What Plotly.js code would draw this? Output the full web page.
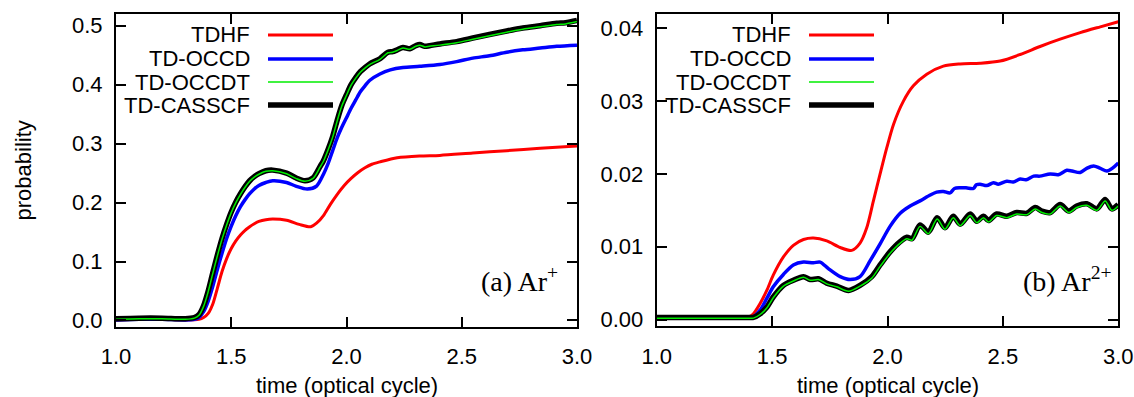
<!DOCTYPE html>
<html>
<head>
<meta charset="utf-8">
<script src="https://cdn.plot.ly/plotly-3.0.1.min.js"></script>
<style>html,body{margin:0;padding:0;background:#fff;}#chart{width:1134px;height:397px;}</style>
</head>
<body>
<div id="chart"></div>
<script>
// ---------- Data: panel (a) Ar+ ----------
const arp_tdhf_x = [1.0,1.1,1.2,1.3,1.36,1.38,1.40,1.42,1.44,1.46,1.48,1.50,1.52,1.54,1.56,1.58,1.60,1.62,1.65,1.68,1.74,1.795,1.845,1.87,1.90,1.93,1.96,1.99,2.02,2.05,2.08,2.11,2.145,2.22,2.318,2.405,2.548,2.695,2.84,3.0];
const arp_tdhf_y = [0.001,0.002,0.002,0.001,0.002,0.005,0.012,0.028,0.055,0.083,0.105,0.122,0.135,0.145,0.153,0.159,0.164,0.168,0.171,0.172,0.170,0.163,0.159,0.165,0.178,0.197,0.214,0.229,0.241,0.251,0.259,0.265,0.269,0.276,0.279,0.280,0.284,0.288,0.292,0.296];

const arp_occd_x = [1.0,1.1,1.2,1.3,1.34,1.36,1.38,1.40,1.42,1.44,1.46,1.48,1.50,1.52,1.54,1.56,1.58,1.60,1.62,1.65,1.68,1.74,1.78,1.83,1.87,1.90,1.92,1.94,1.96,1.98,2.00,2.02,2.04,2.06,2.08,2.10,2.145,2.19,2.245,2.318,2.405,2.478,2.548,2.62,2.695,2.765,2.84,2.912,3.0];
const arp_occd_y = [0.001,0.002,0.002,0.001,0.002,0.005,0.015,0.033,0.058,0.087,0.114,0.139,0.160,0.178,0.193,0.205,0.215,0.223,0.229,0.234,0.237,0.234,0.228,0.223,0.228,0.248,0.266,0.288,0.310,0.328,0.344,0.360,0.374,0.388,0.398,0.407,0.418,0.425,0.429,0.431,0.434,0.439,0.445,0.449,0.455,0.459,0.462,0.465,0.467];

const arp_cas_x = [1.0,1.1,1.2,1.3,1.34,1.36,1.38,1.40,1.42,1.44,1.46,1.48,1.50,1.52,1.54,1.56,1.58,1.60,1.62,1.65,1.68,1.74,1.78,1.82,1.855,1.885,1.90,1.92,1.94,1.96,1.98,2.00,2.02,2.04,2.06,2.08,2.10,2.145,2.18,2.20,2.22,2.245,2.275,2.30,2.318,2.34,2.36,2.405,2.478,2.548,2.62,2.695,2.765,2.84,2.912,2.95,3.0];
const arp_cas_y = [0.003,0.004,0.004,0.003,0.005,0.010,0.025,0.050,0.081,0.111,0.139,0.163,0.184,0.201,0.215,0.227,0.237,0.244,0.249,0.254,0.255,0.250,0.242,0.237,0.242,0.261,0.271,0.290,0.312,0.340,0.365,0.383,0.400,0.412,0.422,0.429,0.435,0.444,0.455,0.456,0.459,0.463,0.461,0.466,0.468,0.465,0.466,0.469,0.473,0.479,0.485,0.491,0.496,0.500,0.504,0.505,0.509];
const arp_occdt_y = [0.002,0.003,0.003,0.002,0.004,0.009,0.024,0.049,0.080,0.110,0.138,0.162,0.183,0.200,0.214,0.226,0.236,0.243,0.248,0.253,0.254,0.249,0.241,0.236,0.241,0.260,0.270,0.289,0.311,0.339,0.364,0.382,0.399,0.411,0.421,0.428,0.434,0.443,0.454,0.455,0.458,0.462,0.460,0.465,0.467,0.464,0.465,0.467,0.471,0.477,0.483,0.489,0.494,0.498,0.502,0.503,0.507];

// ---------- Data: panel (b) Ar2+ ----------
const ar2_tdhf_x = [1.0,1.2,1.4,1.419,1.448,1.477,1.505,1.549,1.592,1.636,1.679,1.737,1.795,1.845,1.881,1.910,1.939,1.968,1.997,2.026,2.069,2.112,2.170,2.242,2.315,2.401,2.488,2.575,2.661,2.748,2.835,2.922,3.0];
const ar2_tdhf_y = [0.0003,0.0003,0.0004,0.0008,0.0022,0.0040,0.0061,0.0086,0.0102,0.0110,0.0112,0.0108,0.0099,0.0095,0.0105,0.0126,0.0163,0.0200,0.0236,0.0268,0.0300,0.0321,0.0337,0.0348,0.0351,0.0352,0.0355,0.0364,0.0375,0.0385,0.0394,0.0402,0.0409];

const ar2_occd_x = [1.0,1.2,1.4,1.419,1.448,1.477,1.505,1.549,1.592,1.636,1.679,1.708,1.744,1.795,1.838,1.881,1.925,1.968,2.011,2.055,2.098,2.141,2.185,2.213,2.242,2.271,2.29,2.315,2.34,2.372,2.385,2.401,2.43,2.459,2.48,2.517,2.545,2.575,2.60,2.633,2.66,2.705,2.74,2.777,2.80,2.835,2.865,2.893,2.92,2.951,2.975,3.0];
const ar2_occd_y = [0.0003,0.0003,0.0003,0.0004,0.0013,0.0029,0.0045,0.0062,0.0075,0.0079,0.0078,0.0079,0.0070,0.0059,0.0055,0.0059,0.0081,0.0104,0.0128,0.0146,0.0156,0.0163,0.0171,0.0175,0.0176,0.0174,0.0180,0.0181,0.0181,0.0180,0.0185,0.0186,0.0184,0.0188,0.0186,0.0190,0.0189,0.0193,0.0192,0.0197,0.0197,0.0200,0.0199,0.0205,0.0204,0.0202,0.0208,0.0211,0.0208,0.0204,0.0208,0.0215];

const ar2_cas_x = [1.0,1.2,1.4,1.419,1.448,1.477,1.505,1.549,1.592,1.636,1.665,1.701,1.737,1.780,1.831,1.881,1.932,1.968,2.011,2.055,2.084,2.106,2.141,2.177,2.215,2.249,2.285,2.315,2.358,2.387,2.416,2.437,2.473,2.517,2.560,2.604,2.640,2.669,2.705,2.748,2.785,2.820,2.864,2.907,2.943,2.972,3.0];
const ar2_cas_y = [0.0003,0.0003,0.0003,0.0003,0.0008,0.0017,0.0031,0.0047,0.0054,0.0059,0.0055,0.0056,0.0050,0.0046,0.0040,0.0047,0.0059,0.0075,0.0093,0.0107,0.0113,0.0111,0.0130,0.0120,0.0140,0.0126,0.0142,0.0131,0.0145,0.0135,0.0142,0.0136,0.0145,0.0142,0.0147,0.0146,0.0154,0.0149,0.0147,0.0158,0.0149,0.0156,0.0159,0.0152,0.0165,0.0152,0.0158];
const ar2_occdt_y = [0.0002,0.0002,0.0002,0.0002,0.0007,0.0016,0.0030,0.0046,0.0053,0.0058,0.0054,0.0055,0.0049,0.0045,0.0039,0.0046,0.0057,0.0073,0.0091,0.0105,0.0111,0.0109,0.0128,0.0118,0.0138,0.0124,0.0140,0.0129,0.0143,0.0133,0.0140,0.0134,0.0143,0.0140,0.0145,0.0144,0.0152,0.0147,0.0145,0.0156,0.0147,0.0154,0.0157,0.0150,0.0163,0.0150,0.0156];

// ---------- Labels ----------
const seriesNames = ["TDHF","TD-OCCD","TD-OCCDT","TD-CASSCF"];
const seriesColors = ["#ff0000","#0000ff","#00ee00","#000000"];
const seriesWidths = [3,3.5,1.5,5.5];
const panelLabels = ["(a) Ar<sup>+</sup>","(b) Ar<sup>2+</sup>"];
const xTitle = "time (optical cycle)";
const yTitle = "probability";

const W = 1134, H = 397;
const px = v => v / W;
const py = v => 1 - v / H;

function tr(x, y, idx, xa, ya) {
  return {x: x, y: y, xaxis: xa, yaxis: ya, type: "scatter", mode: "lines",
    line: {color: seriesColors[idx], width: seriesWidths[idx], shape: "spline", smoothing: 0.8},
    showlegend: false, hoverinfo: "skip"};
}

const data = [
  tr(arp_tdhf_x, arp_tdhf_y, 0, "x", "y"),
  tr(arp_occd_x, arp_occd_y, 1, "x", "y"),
  tr(arp_cas_x, arp_cas_y, 3, "x", "y"),
  tr(arp_cas_x, arp_occdt_y, 2, "x", "y"),
  tr(ar2_tdhf_x, ar2_tdhf_y, 0, "x2", "y2"),
  tr(ar2_occd_x, ar2_occd_y, 1, "x2", "y2"),
  tr(ar2_cas_x, ar2_cas_y, 3, "x2", "y2"),
  tr(ar2_cas_x, ar2_occdt_y, 2, "x2", "y2"),
];

const tickFont = {family: "Liberation Sans, Arial, sans-serif", size: 22, color: "#000"};
const axisCommon = {showline: true, linecolor: "#000", linewidth: 2, mirror: "ticks",
  ticks: "inside", ticklen: 10, tickwidth: 2, tickcolor: "#000",
  showgrid: false, zeroline: false, tickfont: tickFont, fixedrange: true};

const legendRowsY = [35, 59, 82, 105];
const panels = [
  {textRight: 252, lineX0: 268, lineX1: 333, xc: 346.5, labelRight: 560},
  {textRight: 793, lineX0: 809, lineX1: 874, xc: 887.5, labelRight: 1114},
];

const annotations = [];
const shapes = [];
panels.forEach((p, pi) => {
  seriesNames.forEach((n, i) => {
    annotations.push({xref: "paper", yref: "paper", x: px(p.textRight), y: py(legendRowsY[i]),
      xanchor: "right", yanchor: "middle", text: n, showarrow: false, font: tickFont});
    shapes.push({type: "line", xref: "paper", yref: "paper",
      x0: px(p.lineX0), x1: px(p.lineX1), y0: py(legendRowsY[i]), y1: py(legendRowsY[i]),
      line: {color: seriesColors[i], width: seriesWidths[i]}});
  });
  annotations.push({xref: "paper", yref: "paper", x: px(p.xc), y: py(385), xanchor: "center", yanchor: "middle",
    text: xTitle, showarrow: false, font: tickFont});
  annotations.push({xref: "paper", yref: "paper", x: px(p.labelRight), y: py(279), xanchor: "right", yanchor: "middle",
    text: panelLabels[pi], showarrow: false, font: {family: "Liberation Serif, Times New Roman, serif", size: 28, color: "#000"}});
});
annotations.push({xref: "paper", yref: "paper", x: px(23), y: py(170.5), xanchor: "center", yanchor: "middle",
  text: yTitle, textangle: -90, showarrow: false, font: tickFont});

const layout = {
  width: W, height: H,
  margin: {l: 0, r: 0, t: 0, b: 0},
  paper_bgcolor: "#fff", plot_bgcolor: "#fff",
  showlegend: false,
  xaxis: Object.assign({}, axisCommon, {domain: [px(116), px(577)], range: [1, 3], tickvals: [1, 1.5, 2, 2.5, 3], tickformat: ".1f", anchor: "y", ticklabelstandoff: 9}),
  yaxis: Object.assign({}, axisCommon, {domain: [py(326.8), py(14)], range: [-0.0107, 0.5198], tickvals: [0, 0.1, 0.2, 0.3, 0.4, 0.5], tickformat: ".1f", anchor: "x", ticklabelstandoff: 7}),
  xaxis2: Object.assign({}, axisCommon, {domain: [px(656.7), px(1118.3)], range: [1, 3], tickvals: [1, 1.5, 2, 2.5, 3], tickformat: ".1f", anchor: "y2", ticklabelstandoff: 9}),
  yaxis2: Object.assign({}, axisCommon, {domain: [py(326.3), py(14)], range: [-0.00092, 0.04196], tickvals: [0, 0.01, 0.02, 0.03, 0.04], tickformat: ".2f", anchor: "x2", ticklabelstandoff: 7}),
  annotations: annotations,
  shapes: shapes,
};

Plotly.newPlot("chart", data, layout, {displayModeBar: false, staticPlot: true});
</script>
</body>
</html>
